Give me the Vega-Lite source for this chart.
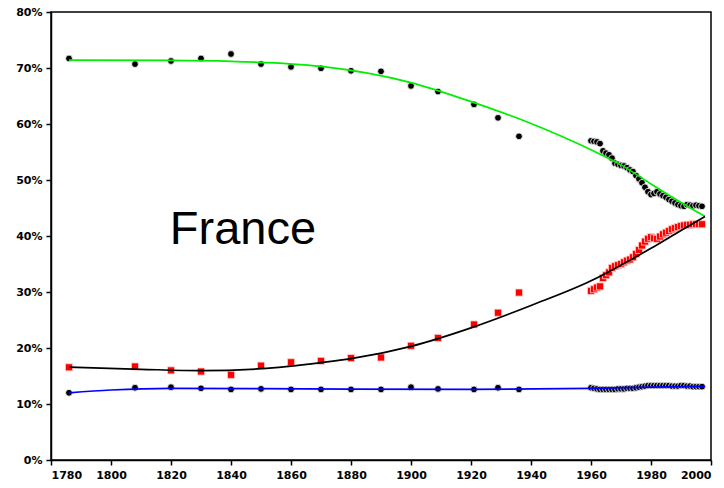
{
  "$schema": "https://vega.github.io/schema/vega-lite/v6.json",
  "width": 660,
  "height": 448,
  "autosize": "none",
  "padding": {"left": 51, "top": 12, "right": 13, "bottom": 28},
  "background": "white",
  "config": {
    "view": {"stroke": "black", "strokeWidth": 1.5},
    "axis": {"grid": false, "domainColor": "black", "domainWidth": 1.5, "tickColor": "black", "tickWidth": 1.5, "tickSize": 5,
      "labelFont": "DejaVu Sans", "labelFontWeight": "bold", "labelFontSize": 11, "labelColor": "black", "title": null}
  },
  "datasets": {
    "obs": [
      {"year": 1786, "value": 71.7, "series": "A"}, {"year": 1808, "value": 70.7, "series": "A"}, {"year": 1820, "value": 71.25, "series": "A"},
      {"year": 1830, "value": 71.7, "series": "A"}, {"year": 1840, "value": 72.5, "series": "A"}, {"year": 1850, "value": 70.7, "series": "A"},
      {"year": 1860, "value": 70.2, "series": "A"}, {"year": 1870, "value": 69.95, "series": "A"}, {"year": 1880, "value": 69.5, "series": "A"},
      {"year": 1890, "value": 69.4, "series": "A"}, {"year": 1900, "value": 66.8, "series": "A"}, {"year": 1909, "value": 65.8, "series": "A"},
      {"year": 1921, "value": 63.5, "series": "A"}, {"year": 1929, "value": 61.1, "series": "A"}, {"year": 1936, "value": 57.8, "series": "A"},
      {"year": 1960, "value": 57.0, "series": "A"}, {"year": 1961, "value": 56.9, "series": "A"}, {"year": 1962, "value": 56.8, "series": "A"},
      {"year": 1963, "value": 56.5, "series": "A"}, {"year": 1964, "value": 55.2, "series": "A"}, {"year": 1965, "value": 54.8, "series": "A"},
      {"year": 1966, "value": 54.5, "series": "A"}, {"year": 1967, "value": 53.9, "series": "A"}, {"year": 1968, "value": 53.0, "series": "A"},
      {"year": 1969, "value": 52.8, "series": "A"}, {"year": 1970, "value": 52.6, "series": "A"}, {"year": 1971, "value": 52.5, "series": "A"},
      {"year": 1972, "value": 52.2, "series": "A"}, {"year": 1973, "value": 51.8, "series": "A"}, {"year": 1974, "value": 51.5, "series": "A"},
      {"year": 1975, "value": 50.8, "series": "A"}, {"year": 1976, "value": 50.2, "series": "A"}, {"year": 1977, "value": 49.5, "series": "A"},
      {"year": 1978, "value": 48.7, "series": "A"}, {"year": 1979, "value": 47.9, "series": "A"}, {"year": 1980, "value": 47.4, "series": "A"},
      {"year": 1981, "value": 47.6, "series": "A"}, {"year": 1982, "value": 47.9, "series": "A"}, {"year": 1983, "value": 47.5, "series": "A"},
      {"year": 1984, "value": 47.2, "series": "A"}, {"year": 1985, "value": 46.9, "series": "A"}, {"year": 1986, "value": 46.5, "series": "A"},
      {"year": 1987, "value": 46.2, "series": "A"}, {"year": 1988, "value": 45.9, "series": "A"}, {"year": 1989, "value": 45.6, "series": "A"},
      {"year": 1990, "value": 45.4, "series": "A"}, {"year": 1991, "value": 45.3, "series": "A"}, {"year": 1992, "value": 45.6, "series": "A"},
      {"year": 1993, "value": 45.5, "series": "A"}, {"year": 1994, "value": 45.4, "series": "A"}, {"year": 1995, "value": 45.5, "series": "A"},
      {"year": 1996, "value": 45.4, "series": "A"}, {"year": 1997, "value": 45.3, "series": "A"},

      {"year": 1786, "value": 16.55, "series": "B"}, {"year": 1808, "value": 16.7, "series": "B"}, {"year": 1820, "value": 16.0, "series": "B"},
      {"year": 1830, "value": 15.8, "series": "B"}, {"year": 1840, "value": 15.2, "series": "B"}, {"year": 1850, "value": 16.85, "series": "B"},
      {"year": 1860, "value": 17.45, "series": "B"}, {"year": 1870, "value": 17.7, "series": "B"}, {"year": 1880, "value": 18.2, "series": "B"},
      {"year": 1890, "value": 18.3, "series": "B"}, {"year": 1900, "value": 20.4, "series": "B"}, {"year": 1909, "value": 21.8, "series": "B"},
      {"year": 1921, "value": 24.2, "series": "B"}, {"year": 1929, "value": 26.3, "series": "B"}, {"year": 1936, "value": 29.9, "series": "B"},
      {"year": 1960, "value": 30.2, "series": "B"}, {"year": 1961, "value": 30.5, "series": "B"}, {"year": 1962, "value": 30.8, "series": "B"},
      {"year": 1963, "value": 31.0, "series": "B"}, {"year": 1964, "value": 32.5, "series": "B"}, {"year": 1965, "value": 33.0, "series": "B"},
      {"year": 1966, "value": 33.5, "series": "B"}, {"year": 1967, "value": 34.3, "series": "B"}, {"year": 1968, "value": 34.6, "series": "B"},
      {"year": 1969, "value": 34.8, "series": "B"}, {"year": 1970, "value": 35.0, "series": "B"}, {"year": 1971, "value": 35.3, "series": "B"},
      {"year": 1972, "value": 35.6, "series": "B"}, {"year": 1973, "value": 35.8, "series": "B"}, {"year": 1974, "value": 36.2, "series": "B"},
      {"year": 1975, "value": 36.8, "series": "B"}, {"year": 1976, "value": 37.5, "series": "B"}, {"year": 1977, "value": 38.3, "series": "B"},
      {"year": 1978, "value": 39.0, "series": "B"}, {"year": 1979, "value": 39.5, "series": "B"}, {"year": 1980, "value": 39.8, "series": "B"},
      {"year": 1981, "value": 39.6, "series": "B"}, {"year": 1982, "value": 39.5, "series": "B"}, {"year": 1983, "value": 39.9, "series": "B"},
      {"year": 1984, "value": 40.3, "series": "B"}, {"year": 1985, "value": 40.6, "series": "B"}, {"year": 1986, "value": 40.9, "series": "B"},
      {"year": 1987, "value": 41.2, "series": "B"}, {"year": 1988, "value": 41.4, "series": "B"}, {"year": 1989, "value": 41.6, "series": "B"},
      {"year": 1990, "value": 41.8, "series": "B"}, {"year": 1991, "value": 41.9, "series": "B"}, {"year": 1992, "value": 42.0, "series": "B"},
      {"year": 1993, "value": 42.0, "series": "B"}, {"year": 1994, "value": 42.1, "series": "B"}, {"year": 1995, "value": 42.1, "series": "B"},
      {"year": 1996, "value": 42.1, "series": "B"}, {"year": 1997, "value": 42.1, "series": "B"},

      {"year": 1786, "value": 12.0, "series": "C"}, {"year": 1808, "value": 12.9, "series": "C"}, {"year": 1820, "value": 13.0, "series": "C"},
      {"year": 1830, "value": 12.8, "series": "C"}, {"year": 1840, "value": 12.6, "series": "C"}, {"year": 1850, "value": 12.7, "series": "C"},
      {"year": 1860, "value": 12.6, "series": "C"}, {"year": 1870, "value": 12.6, "series": "C"}, {"year": 1880, "value": 12.6, "series": "C"},
      {"year": 1890, "value": 12.6, "series": "C"}, {"year": 1900, "value": 13.0, "series": "C"}, {"year": 1909, "value": 12.7, "series": "C"},
      {"year": 1921, "value": 12.6, "series": "C"}, {"year": 1929, "value": 12.9, "series": "C"}, {"year": 1936, "value": 12.6, "series": "C"},
      {"year": 1960, "value": 12.9, "series": "C"}, {"year": 1961, "value": 12.8, "series": "C"}, {"year": 1962, "value": 12.7, "series": "C"},
      {"year": 1963, "value": 12.6, "series": "C"}, {"year": 1964, "value": 12.6, "series": "C"}, {"year": 1965, "value": 12.6, "series": "C"},
      {"year": 1966, "value": 12.6, "series": "C"}, {"year": 1967, "value": 12.6, "series": "C"}, {"year": 1968, "value": 12.6, "series": "C"},
      {"year": 1969, "value": 12.7, "series": "C"}, {"year": 1970, "value": 12.7, "series": "C"}, {"year": 1971, "value": 12.7, "series": "C"},
      {"year": 1972, "value": 12.8, "series": "C"}, {"year": 1973, "value": 12.8, "series": "C"}, {"year": 1974, "value": 12.8, "series": "C"},
      {"year": 1975, "value": 12.9, "series": "C"}, {"year": 1976, "value": 13.0, "series": "C"}, {"year": 1977, "value": 13.1, "series": "C"},
      {"year": 1978, "value": 13.2, "series": "C"}, {"year": 1979, "value": 13.3, "series": "C"}, {"year": 1980, "value": 13.3, "series": "C"},
      {"year": 1981, "value": 13.3, "series": "C"}, {"year": 1982, "value": 13.3, "series": "C"}, {"year": 1983, "value": 13.3, "series": "C"},
      {"year": 1984, "value": 13.3, "series": "C"}, {"year": 1985, "value": 13.3, "series": "C"}, {"year": 1986, "value": 13.3, "series": "C"},
      {"year": 1987, "value": 13.2, "series": "C"}, {"year": 1988, "value": 13.2, "series": "C"}, {"year": 1989, "value": 13.2, "series": "C"},
      {"year": 1990, "value": 13.3, "series": "C"}, {"year": 1991, "value": 13.3, "series": "C"}, {"year": 1992, "value": 13.2, "series": "C"},
      {"year": 1993, "value": 13.2, "series": "C"}, {"year": 1994, "value": 13.1, "series": "C"}, {"year": 1995, "value": 13.1, "series": "C"},
      {"year": 1996, "value": 13.1, "series": "C"}, {"year": 1997, "value": 13.1, "series": "C"}
    ],
    "fit": [
      {"year": 1786, "value": 71.4, "series": "A"}, {"year": 1820, "value": 71.35, "series": "A"}, {"year": 1840, "value": 71.2, "series": "A"},
      {"year": 1870, "value": 70.3, "series": "A"}, {"year": 1900, "value": 67.4, "series": "A"}, {"year": 1920, "value": 64.0, "series": "A"},
      {"year": 1940, "value": 60.1, "series": "A"}, {"year": 1960, "value": 55.4, "series": "A"}, {"year": 1970, "value": 52.7, "series": "A"},
      {"year": 1980, "value": 49.3, "series": "A"}, {"year": 1990, "value": 46.0, "series": "A"}, {"year": 1998, "value": 43.5, "series": "A"},

      {"year": 1786, "value": 16.6, "series": "B"}, {"year": 1810, "value": 16.2, "series": "B"}, {"year": 1830, "value": 15.95, "series": "B"},
      {"year": 1850, "value": 16.3, "series": "B"}, {"year": 1870, "value": 17.4, "series": "B"}, {"year": 1880, "value": 18.1, "series": "B"},
      {"year": 1900, "value": 20.3, "series": "B"}, {"year": 1920, "value": 23.6, "series": "B"}, {"year": 1940, "value": 27.6, "series": "B"},
      {"year": 1960, "value": 32.0, "series": "B"}, {"year": 1970, "value": 34.8, "series": "B"}, {"year": 1980, "value": 37.8, "series": "B"},
      {"year": 1990, "value": 41.0, "series": "B"}, {"year": 1998, "value": 43.5, "series": "B"},

      {"year": 1786, "value": 12.0, "series": "C"}, {"year": 1800, "value": 12.5, "series": "C"}, {"year": 1820, "value": 12.8, "series": "C"},
      {"year": 1850, "value": 12.75, "series": "C"}, {"year": 1880, "value": 12.65, "series": "C"}, {"year": 1920, "value": 12.6, "series": "C"},
      {"year": 1960, "value": 12.8, "series": "C"}, {"year": 1980, "value": 13.0, "series": "C"}, {"year": 1998, "value": 13.15, "series": "C"}
    ],
    "label": [{"year": 1844, "value": 41, "text": "France"}]
  },
  "encoding": {
    "x": {"field": "year", "type": "quantitative",
      "scale": {"domain": [1780, 2000], "nice": false, "zero": false},
      "axis": {"values": [1780, 1800, 1820, 1840, 1860, 1880, 1900, 1920, 1940, 1960, 1980, 2000], "format": "d", "labelPadding": 4}},
    "y": {"field": "value", "type": "quantitative",
      "scale": {"domain": [0, 80], "nice": false},
      "axis": {"values": [0, 10, 20, 30, 40, 50, 60, 70, 80], "labelExpr": "datum.value + '%'", "labelPadding": 4}}
  },
  "layer": [
    {
      "data": {"name": "obs"},
      "transform": [{"filter": "datum.series !== 'B'"}],
      "mark": {"type": "point", "shape": "circle", "filled": true, "fill": "black", "stroke": "white", "strokeWidth": 0.8, "size": 46, "opacity": 1}
    },
    {
      "data": {"name": "obs"},
      "transform": [{"filter": "datum.series === 'B'"}],
      "mark": {"type": "point", "shape": "square", "filled": true, "fill": "#ff0000", "stroke": "#ffd0d0", "strokeWidth": 0.8, "size": 50, "opacity": 1}
    },
    {
      "data": {"name": "fit"},
      "mark": {"type": "line", "interpolate": "monotone", "strokeWidth": 1.7},
      "encoding": {
        "color": {"field": "series", "type": "nominal", "legend": null,
          "scale": {"domain": ["A", "B", "C"], "range": ["#00ee00", "#000000", "#0000ff"]}},
        "order": {"field": "year", "type": "quantitative"}
      }
    },
    {
      "data": {"name": "label"},
      "mark": {"type": "text", "font": "Liberation Sans", "fontSize": 47, "color": "black", "align": "center", "baseline": "middle"},
      "encoding": {"text": {"field": "text"}}
    }
  ]
}
